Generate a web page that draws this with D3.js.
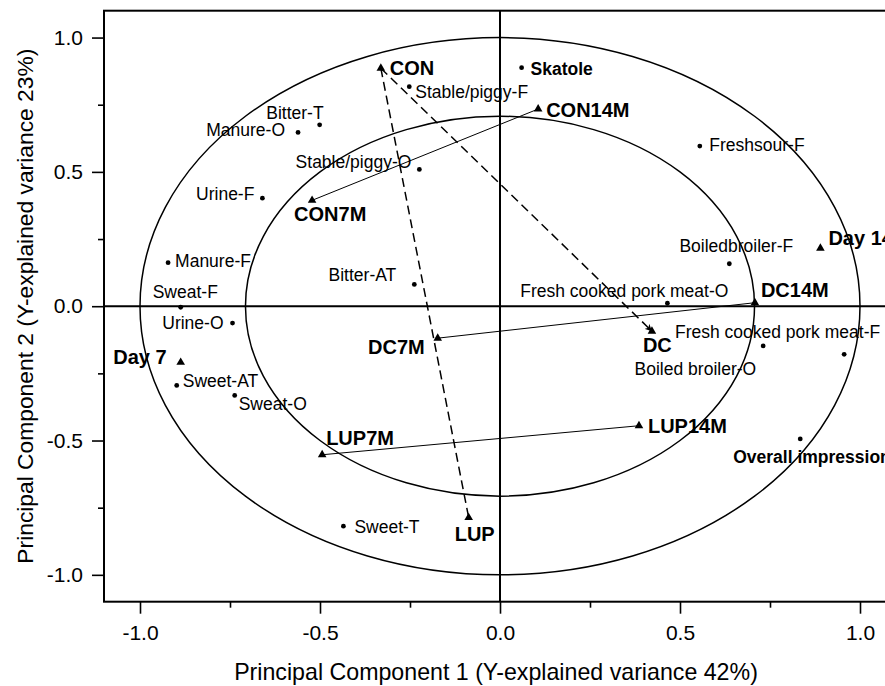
<!DOCTYPE html>
<html><head><meta charset="utf-8">
<script src="https://cdn.jsdelivr.net/npm/d3@7/dist/d3.min.js"></script>
<style>
body{margin:0;background:#fff;overflow:hidden}
svg{display:block}
text{font-family:"Liberation Sans",Arial,Helvetica,sans-serif;fill:#000}
</style>
</head><body>
<svg id="chart" width="885" height="686"></svg>
<script>
// ---------- data ----------
const sampleNames = ["CON","CON14M","CON7M","Day 14","DC14M","DC7M","DC","Day 7","LUP7M","LUP14M","LUP"];
const sampleX     = [-0.331, 0.106, -0.522, 0.890, 0.708, -0.173, 0.422, -0.887, -0.494, 0.386, -0.087];
const sampleY     = [ 0.886, 0.734,  0.394, 0.216, 0.013, -0.119, -0.093, -0.209, -0.553, -0.445, -0.787];

const attrNames = ["Skatole","Stable/piggy-F","Bitter-T","Manure-O","Stable/piggy-O","Urine-F","Freshsour-F",
  "Manure-F","Boiledbroiler-F","Bitter-AT","Sweat-F","Fresh cooked pork meat-O","Urine-O","Sweet-AT","Sweat-O",
  "Boiled broiler-O","Fresh cooked pork meat-F","Overall impression","Sweet-T"];
const attrX = [0.060, -0.252, -0.501, -0.561, -0.224, -0.660, 0.555, -0.922, 0.637, -0.238, -0.887, 0.465, -0.743, -0.898, -0.737, 0.731, 0.956, 0.834, -0.435];
const attrY = [0.888, 0.817, 0.675, 0.647, 0.509, 0.402, 0.596, 0.162, 0.158, 0.081, -0.004, 0.011, -0.063, -0.295, -0.332, -0.148, -0.179, -0.494, -0.819];
const boldAttrs = ["Skatole","Overall impression"];

const solidLinks  = [["CON14M","CON7M"],["DC14M","DC7M"],["LUP14M","LUP7M"]];
const dashedLinks = [["CON","LUP"],["CON","DC"]];
const circleRadii = [1.0, 0.707];

const majorTicks = [-1.0, -0.5, 0.0, 0.5, 1.0];
const minorTicks = [-0.75, -0.25, 0.25, 0.75];
const tickLabels = ["-1.0","-0.5","0.0","0.5","1.0"];
const xTitle = "Principal Component 1 (Y-explained variance 42%)";
const yTitle = "Principal Component 2 (Y-explained variance 23%)";

// ---------- layout (label placement, px) ----------
const sampleLabelPos = {
  "CON":[9,7,"start"],"CON14M":[8,8,"start"],"CON7M":[-18,21,"start"],"Day 14":[8,-3,"start"],
  "DC14M":[6,-6,"start"],"DC7M":[-13,16,"end"],"DC":[-9,21,"start"],"Day 7":[-14,2,"end"],
  "LUP7M":[4,-10,"start"],"LUP14M":[9,7,"start"],"LUP":[-14,23,"start"]
};
const attrLabelPos = {
  "Skatole":[9,7,"start"],"Stable/piggy-F":[6,11,"start"],"Bitter-T":[4,-6,"end"],"Manure-O":[-13,4,"end"],
  "Stable/piggy-O":[-8,-1,"end"],"Urine-F":[-8,2,"end"],"Freshsour-F":[9.5,5,"start"],"Manure-F":[7,4.5,"start"],
  "Boiledbroiler-F":[7,-12,"middle"],"Bitter-AT":[-18,-3,"end"],"Sweat-F":[-28,-9,"start"],
  "Fresh cooked pork meat-O":[61,-6,"end"],"Urine-O":[-9,6,"end"],"Sweet-AT":[6,1.5,"start"],"Sweat-O":[4,15,"start"],
  "Boiled broiler-O":[-7,29,"end"],"Fresh cooked pork meat-F":[36,-16,"end"],"Overall impression":[-67,24,"start"],
  "Sweet-T":[11,6.5,"start"]
};

// ---------- chart ----------
const svg = d3.select("#chart");
const L = 104, R = 896, T = 10.7, B = 601.7;
const x = d3.scaleLinear().domain([-1.1, 1.1]).range([L, R]);
const y = d3.scaleLinear().domain([-1.1, 1.1]).range([B, T]);

const samples = sampleNames.map((n,i)=>({name:n, x:sampleX[i], y:sampleY[i]}));
const attrs = attrNames.map((n,i)=>({name:n, x:attrX[i], y:attrY[i]}));
const byName = Object.fromEntries(samples.map(d=>[d.name,d]));

svg.append("defs").append("marker")
  .attr("id","arrow").attr("viewBox","0 0 10 10").attr("refX",10).attr("refY",5)
  .attr("markerWidth",7).attr("markerHeight",7).attr("markerUnits","userSpaceOnUse").attr("orient","auto")
  .append("path").attr("d","M0,0 L10,5 L0,10 L3,5 Z").attr("fill","#000");

// axes
const fmt = d => tickLabels[majorTicks.indexOf(d)];
const xMajor = svg.append("g").attr("transform",`translate(0,${B})`)
  .call(d3.axisBottom(x).tickValues(majorTicks).tickSize(12).tickPadding(11).tickFormat(fmt));
const xMinor = svg.append("g").attr("transform",`translate(0,${B})`)
  .call(d3.axisBottom(x).tickValues(minorTicks).tickSize(6).tickFormat(""));
const yMajor = svg.append("g").attr("transform",`translate(${L},0)`)
  .call(d3.axisLeft(y).tickValues(majorTicks).tickSize(12).tickPadding(9).tickFormat(fmt));
const yMinor = svg.append("g").attr("transform",`translate(${L},0)`)
  .call(d3.axisLeft(y).tickValues(minorTicks).tickSize(6).tickFormat(""));
[xMajor,xMinor,yMajor,yMinor].forEach(g=>{
  g.select(".domain").remove();
  g.selectAll("line").attr("stroke","#000").attr("stroke-width",1.6);
  g.selectAll("text").attr("font-size",21).attr("font-family",'"Liberation Sans",Arial,sans-serif').attr("fill","#000");
});

// frame
svg.append("rect").attr("x",L).attr("y",T).attr("width",R-L).attr("height",B-T)
  .attr("fill","none").attr("stroke","#000").attr("stroke-width",2);

// zero lines
svg.append("line").attr("x1",L).attr("x2",R).attr("y1",y(0)).attr("y2",y(0)).attr("stroke","#000").attr("stroke-width",2);
svg.append("line").attr("x1",x(0)).attr("x2",x(0)).attr("y1",T).attr("y2",B).attr("stroke","#000").attr("stroke-width",2);

// correlation circles
svg.selectAll("ellipse.rc").data(circleRadii).join("ellipse").attr("class","rc")
  .attr("cx",x(0)).attr("cy",y(0))
  .attr("rx",r=>x(r)-x(0)).attr("ry",r=>y(0)-y(r))
  .attr("fill","none").attr("stroke","#000").attr("stroke-width",1.5);

// links
svg.selectAll("line.solid").data(solidLinks).join("line").attr("class","solid")
  .attr("x1",d=>x(byName[d[0]].x)).attr("y1",d=>y(byName[d[0]].y))
  .attr("x2",d=>x(byName[d[1]].x)).attr("y2",d=>y(byName[d[1]].y))
  .attr("stroke","#000").attr("stroke-width",1);
svg.selectAll("line.dash").data(dashedLinks).join("line").attr("class","dash")
  .attr("x1",d=>x(byName[d[0]].x)).attr("y1",d=>y(byName[d[0]].y))
  .attr("x2",d=>x(byName[d[1]].x)).attr("y2",d=>y(byName[d[1]].y))
  .attr("stroke","#000").attr("stroke-width",1.5).attr("stroke-dasharray","9,5")
  .attr("marker-end",d=>d[1]==="DC"?"url(#arrow)":null);

// attribute points
svg.selectAll("circle.attr").data(attrs).join("circle").attr("class","attr")
  .attr("cx",d=>x(d.x)).attr("cy",d=>y(d.y)).attr("r",2.4).attr("fill","#000");
svg.selectAll("text.attr").data(attrs).join("text").attr("class","attr")
  .attr("x",d=>x(d.x)+attrLabelPos[d.name][0]).attr("y",d=>y(d.y)+attrLabelPos[d.name][1])
  .attr("text-anchor",d=>attrLabelPos[d.name][2])
  .attr("font-size",17.5).attr("font-weight",d=>boldAttrs.includes(d.name)?"bold":"normal")
  .text(d=>d.name);

// sample points
const tri = d3.symbol().type(d3.symbolTriangle).size(32);
svg.selectAll("path.samp").data(samples).join("path").attr("class","samp")
  .attr("d",tri).attr("transform",d=>`translate(${x(d.x)},${y(d.y)})`).attr("fill","#000");
svg.selectAll("text.samp").data(samples).join("text").attr("class","samp")
  .attr("x",d=>x(d.x)+sampleLabelPos[d.name][0]).attr("y",d=>y(d.y)+sampleLabelPos[d.name][1])
  .attr("text-anchor",d=>sampleLabelPos[d.name][2])
  .attr("font-size",20).attr("font-weight","bold")
  .text(d=>d.name);

// axis titles
svg.append("text").attr("x",x(0)-4).attr("y",680).attr("text-anchor","middle").attr("font-size",23.2).text(xTitle);
svg.append("text").attr("transform",`translate(33,${y(0)}) rotate(-90)`).attr("text-anchor","middle").attr("font-size",22.8).text(yTitle);
</script>
</body></html>
